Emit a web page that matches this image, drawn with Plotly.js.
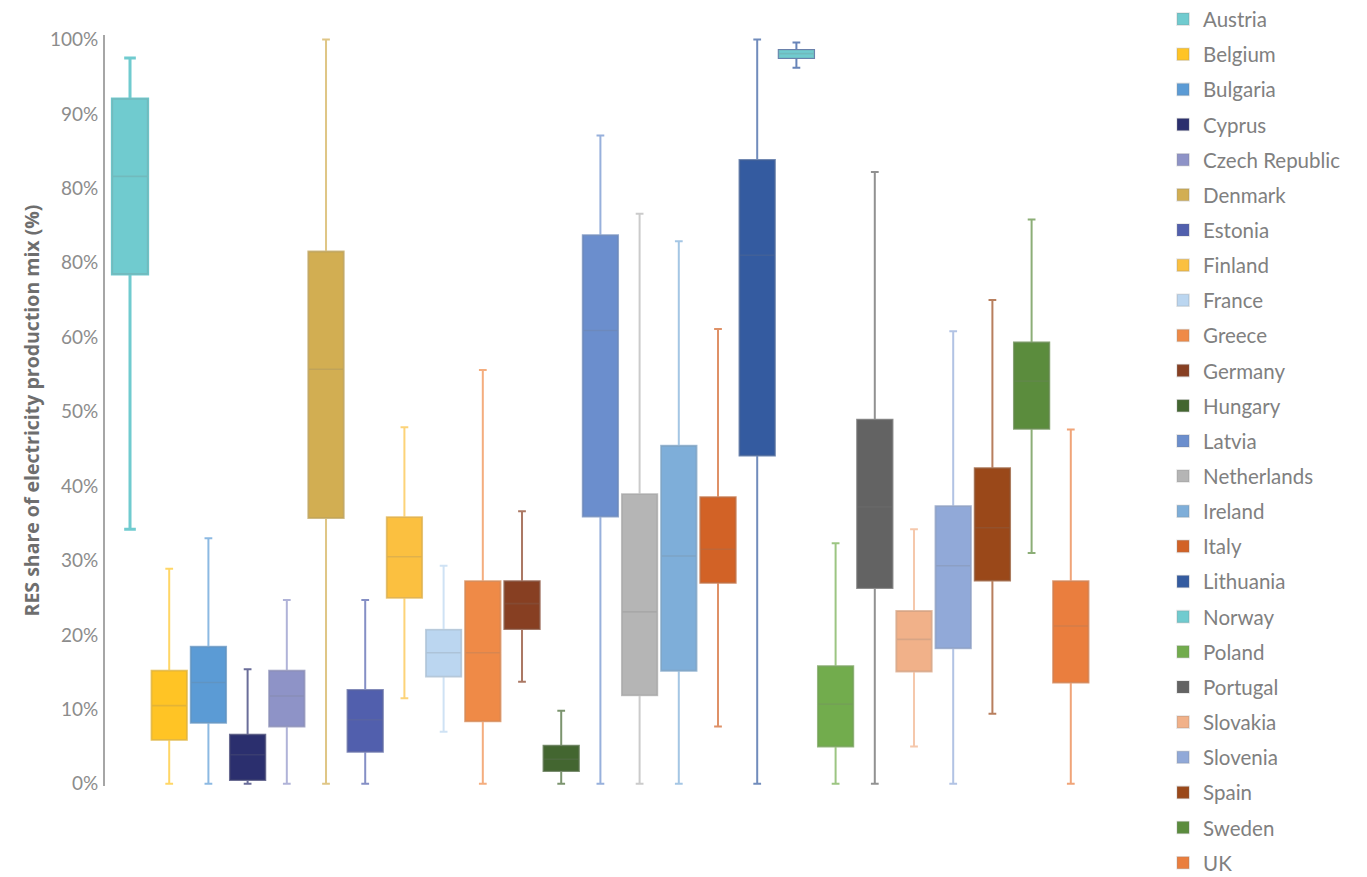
<!DOCTYPE html>
<html>
<head>
<meta charset="utf-8">
<script src="https://cdn.plot.ly/plotly-3.0.1.min.js"></script>
<style>html,body{margin:0;padding:0;background:#fff;}#chart{width:1367px;height:877px;}</style>
</head>
<body>
<div id="chart"></div>
<script>
// ---- data (values in %) ----
const countries = ["Austria","Belgium","Bulgaria","Cyprus","Czech Republic","Denmark","Estonia","Finland","France","Greece","Germany","Hungary","Latvia","Netherlands","Ireland","Italy","Lithuania","Norway","Poland","Portugal","Slovakia","Slovenia","Spain","Sweden","UK"];
const lowValues    = [34.2, 0, 0, 0, 0, 0, 0, 11.5, 7.0, 0, 13.7, 0, 0, 0, 0, 7.7, 0, 96.2, 0, 0, 5.0, 0, 9.4, 31.0, 0];
const q1Values     = [68.5, 5.9, 8.2, 0.5, 7.7, 35.7, 4.3, 25.0, 14.4, 8.4, 20.8, 1.7, 35.9, 11.9, 15.2, 27.0, 44.1, 97.5, 5.0, 26.3, 15.1, 18.2, 27.3, 47.7, 13.6];
const medianValues = [81.6, 10.5, 13.6, 3.9, 11.8, 55.7, 8.6, 30.5, 17.6, 17.6, 24.2, 3.3, 60.9, 23.1, 30.6, 31.5, 71.0, 98.1, 10.7, 37.2, 19.4, 29.3, 34.4, 54.1, 21.2];
const q3Values     = [92.0, 15.2, 18.4, 6.6, 15.2, 71.5, 12.6, 35.8, 20.7, 27.2, 27.2, 5.1, 73.7, 38.9, 45.4, 38.5, 83.8, 98.6, 15.8, 48.9, 23.2, 37.3, 42.4, 59.3, 27.2];
const highValues   = [97.5, 28.9, 33.0, 15.4, 24.7, 100, 24.7, 47.9, 29.3, 55.6, 36.6, 9.8, 87.1, 76.6, 72.9, 61.1, 100, 99.6, 32.3, 82.2, 34.2, 60.8, 65.0, 75.8, 47.6];
const tickValues = [0, 10, 20, 30, 40, 50, 60, 70, 80, 90, 100];
const tickLabels = ["0%", "10%", "20%", "30%", "40%", "50%", "60%", "80%", "80%", "90%", "100%"];

// ---- styles ----
const colors = ["#70CBCF","#FFC425","#5B9BD5","#2B2F6E","#8E93C7","#D2AE52","#515FAD","#FBC040","#BBD6F0","#EF8A47","#873F22","#436630","#6B8ECD","#B5B5B5","#7EAED9","#D26226","#345BA0","#70CBCF","#72AC4D","#636363","#F1B189","#91A9D8","#9A4819","#5B8C3D","#EA7E3E"];
function rgba(hex, a){
  const n = parseInt(hex.slice(1),16);
  return `rgba(${(n>>16)&255},${(n>>8)&255},${n&255},${a})`;
}
const FONT = "Lato, 'Open Sans', sans-serif";

const traces = [];
countries.forEach((c, i) => {
  let wColor = rgba(colors[i], 0.7), wWidth = 2, wCap = 0.22;
  if (c === "Austria") { wColor = colors[i]; wWidth = 3; wCap = 0.33; }
  if (c === "Norway") { wColor = rgba("#345BA0", 0.75); }
  // whiskers
  traces.push({
    type: "box", name: c, legendgroup: c, showlegend: false,
    x: [i], q1: [q1Values[i]], median: [medianValues[i]], q3: [q3Values[i]],
    lowerfence: [lowValues[i]], upperfence: [highValues[i]],
    width: 0.9, whiskerwidth: wCap, boxpoints: false,
    fillcolor: "rgba(0,0,0,0)", line: {color: wColor, width: wWidth},
    hoverinfo: "skip"
  });
  // box body
  traces.push({
    type: "box", name: c, legendgroup: c, showlegend: true,
    x: [i], q1: [q1Values[i]], median: [medianValues[i]], q3: [q3Values[i]],
    lowerfence: [q1Values[i]], upperfence: [q3Values[i]],
    width: 0.9, whiskerwidth: 0, boxpoints: false,
    fillcolor: colors[i], line: {color: "rgba(120,120,120,0.2)", width: 1.6}
  });
});

const layout = {
  width: 1367, height: 877,
  margin: {l: 105, r: 257, t: 35, b: 91, autoexpand: false},
  paper_bgcolor: "#ffffff", plot_bgcolor: "#ffffff",
  boxmode: "overlay",
  font: {family: FONT, color: "#808080"},
  xaxis: {visible: false, range: [-0.638, 25]},
  yaxis: {
    range: [-0.3, 100.6],
    tickvals: tickValues, ticktext: tickLabels,
    showgrid: false, zeroline: false,
    showline: true, linecolor: "#a6a6a6", linewidth: 2,
    ticks: "", ticklabelstandoff: 1,
    tickfont: {family: FONT, size: 19, color: "#8c8c8c"},
    title: {text: "RES share of electricity production mix (%)", standoff: 5,
            font: {family: "'Open Sans', sans-serif", size: 19.5, color: "#6e6e6e", weight: "bold"}}
  },
  legend: {
    x: 1.0528, xanchor: "left", y: 1.0476, yanchor: "top",
    traceorder: "grouped", tracegroupgap: 5.5, maxheight: 877,
    font: {family: FONT, size: 20.5, color: "#808080"},
    bgcolor: "rgba(0,0,0,0)"
  },
  showlegend: true
};

Plotly.newPlot("chart", traces, layout, {displayModeBar: false, staticPlot: true});
</script>
</body>
</html>
